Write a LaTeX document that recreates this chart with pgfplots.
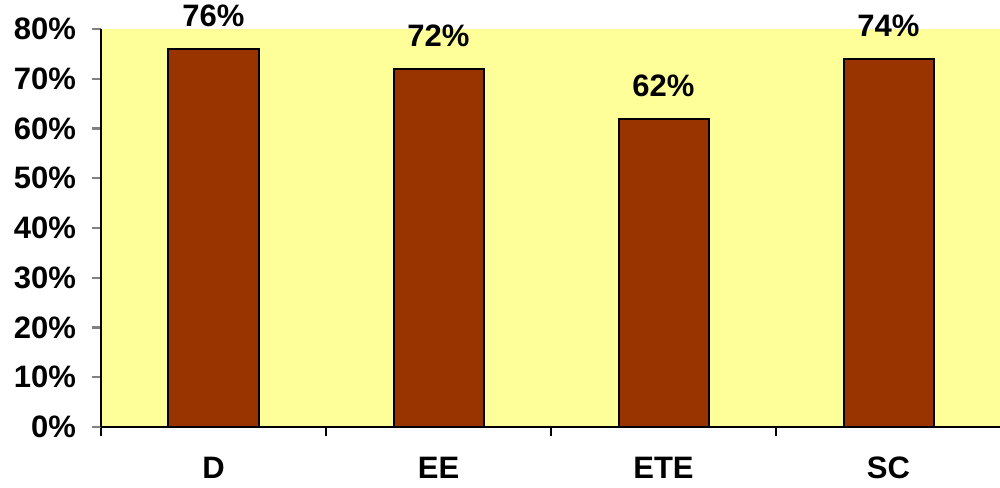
\documentclass[border=0pt]{standalone}
\usepackage{pgfplots}
\pgfplotsset{compat=1.18}
\usepackage{fontspec}
\setmainfont{Liberation Sans}
\definecolor{plotbg}{HTML}{FFFF99}
\definecolor{barfill}{HTML}{993300}
\begin{document}
\begin{tikzpicture}[x=0.5pt,y=0.5pt]
\begin{axis}[
  at={(0,0)}, anchor=south west,
  scale only axis,
  width=450pt, height=199pt,
  xmin=-0.5, xmax=3.5,
  ymin=0, ymax=80,
  axis background/.style={fill=plotbg},
  axis line style={line width=1.2pt},
  axis x line*=bottom, axis y line*=left,
  ytick={0,10,...,80},
  yticklabel={\pgfmathprintnumber{\tick}\%},
  xtick={0,1,2,3},
  xticklabels={D,EE,ETE,SC},
  minor xtick={-0.5,0.5,1.5,2.5,3.5},
  tick align=outside,
  major tick length=4.5pt,
  minor tick length=4.5pt,
  major x tick style={draw=none},
  minor x tick style={draw=black, line width=1.2pt},
  ytick style={line width=1.2pt},
  /pgf/number format/assume math mode=true,
  tick label style={font=\fontsize{15.5}{17}\selectfont\bfseries},
  yticklabel style={xshift=-4.5pt},
  xticklabel style={yshift=-7pt},
  ybar, bar width=45pt,
  nodes near coords={\pgfmathprintnumber{\pgfplotspointmeta}\%},
  nodes near coords style={font=\fontsize{15.5}{17}\selectfont\bfseries, yshift=7pt},
  clip=false,
]
\addplot[fill=barfill, draw=black, line width=1pt] coordinates {(0,76) (1,72) (2,62) (3,74)};
\end{axis}
\pgfresetboundingbox
\useasboundingbox (-101,-60) rectangle (899,427);
\end{tikzpicture}
\end{document}
